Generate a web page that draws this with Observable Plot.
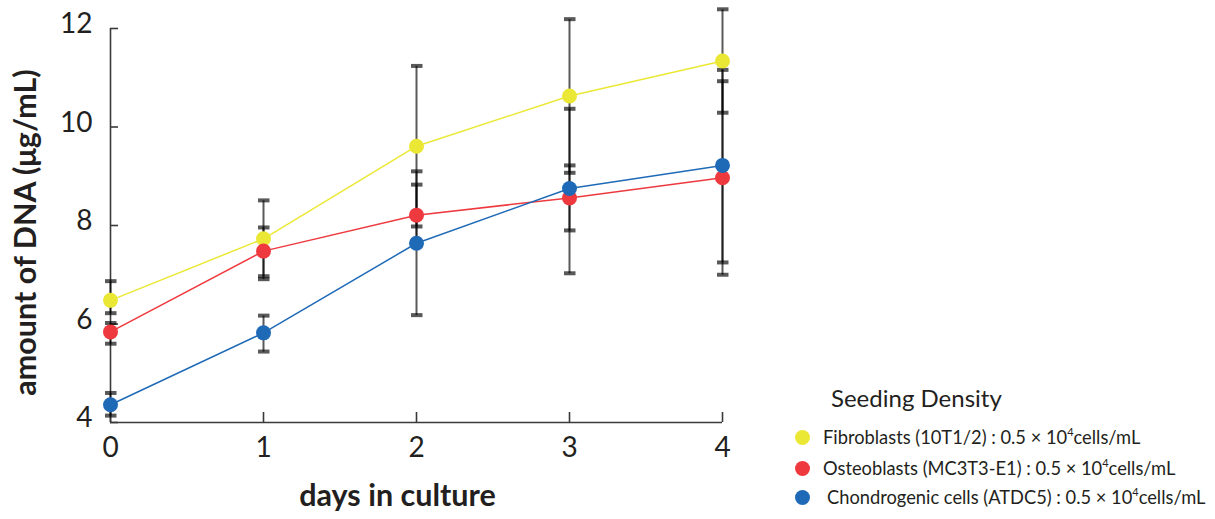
<!DOCTYPE html>
<html>
<head>
<meta charset="utf-8">
<script src="https://cdn.jsdelivr.net/npm/d3@7"></script>
<script src="https://cdn.jsdelivr.net/npm/@observablehq/plot@0.6"></script>
<style>
  body { margin: 0; background: #fff; }
  #wrap { position: relative; width: 1215px; height: 519px; font-family: Lato, "Open Sans", sans-serif; color: #231f20; overflow: hidden; }
  #wrap svg { position: absolute; left: 0; top: 0; }
  .lg-title { position: absolute; left: 831px; top: 384px; font-size: 24px; line-height: 28px; white-space: nowrap; }
  .lg-row { position: absolute; left: 795px; height: 22px; display: flex; align-items: center; white-space: nowrap; font-size: 18.3px; }
  .lg-dot { width: 15px; height: 15px; border-radius: 50%; display: inline-block; margin-right: 13px; }
  .lg-row sup { font-size: 11px; vertical-align: 8px; line-height: 0; }
</style>
</head>
<body>
<div id="wrap"></div>
<script>
// ---- data ----
const days = [0, 1, 2, 3, 4];
const yTicks = [4, 6, 8, 10, 12];
const seriesNames = ["Fibroblasts (10T1/2)", "Osteoblasts (MC3T3-E1)", "Chondrogenic cells (ATDC5)"];
const seriesColors = ["#ebe835", "#ee3a3f", "#1f6ab7"];
const densityText = "0.5 × 10";
const densityExp = "4";
const densityUnit = "cells/mL";
const legendTitle = "Seeding Density";
const xTitle = "days in culture";
const yTitle = "amount of DNA (μg/mL)";

const fibroblasts   = [6.48, 7.73, 9.61, 10.63, 11.34];
const fibroblastsHi = [6.87, 8.51, 11.24, 12.19, 12.39];
const fibroblastsLo = [6.22, 6.97, 7.98, 9.07, 10.29];

const osteoblasts   = [5.84, 7.48, 8.21, 8.56, 8.97];
const osteoblastsHi = [6.02, 7.96, 8.83, 9.22, 10.93];
const osteoblastsLo = [5.60, 6.91, 7.58, 7.90, 7.00];

const chondrogenic   = [4.36, 5.82, 7.64, 8.75, 9.22];
const chondrogenicHi = [4.60, 6.17, 9.10, 10.37, 11.16];
const chondrogenicLo = [4.14, 5.44, 6.18, 7.03, 7.25];

const values = [fibroblasts, osteoblasts, chondrogenic];
const his = [fibroblastsHi, osteoblastsHi, chondrogenicHi];
const los = [fibroblastsLo, osteoblastsLo, chondrogenicLo];

const rows = [];
seriesNames.forEach((name, i) => days.forEach((d, j) => rows.push({
  series: name, day: d, value: values[i][j], hi: his[i][j], lo: los[i][j]
})));

const axisColor = "#3a3a3a";
const textColor = "#231f20";

const chart = Plot.plot({
  width: 1215,
  height: 519,
  marginLeft: 110,
  marginRight: 493,
  marginTop: 28,
  marginBottom: 97,
  x: {domain: [0, 4]},
  y: {domain: [4, 12]},
  color: {domain: seriesNames, range: seriesColors},
  style: {fontFamily: "Lato, 'Open Sans', sans-serif", fontSize: "28px", color: textColor, background: "transparent", overflow: "visible"},
  marks: [
    Plot.ruleX([0], {y1: 4, y2: 12, stroke: axisColor, strokeWidth: 1.6}),
    Plot.ruleY([4], {x1: 0, x2: 4, stroke: axisColor, strokeWidth: 1.6}),
    Plot.axisY({ticks: yTicks, tickSize: -8, text: null, label: null, stroke: axisColor, strokeWidth: 1.6}),
    Plot.axisY({ticks: yTicks, tickSize: 0, tickPadding: 18, dy: -4, label: null, fontSize: 28, fill: textColor, tickFormat: d => String(d)}),
    Plot.axisX({ticks: days, tickSize: -10, text: null, label: null, stroke: axisColor, strokeWidth: 1.6}),
    Plot.axisX({ticks: days, tickSize: 0, tickPadding: 15, label: null, fontSize: 28, fill: textColor, tickFormat: d => String(d)}),
    Plot.line(rows, {x: "day", y: "value", z: "series", stroke: "series", strokeWidth: 1.5}),
    Plot.link(rows, {x1: "day", x2: "day", y1: "lo", y2: "hi", stroke: "black", strokeOpacity: 0.65, strokeWidth: 2, markerStart: "tick", markerEnd: "tick"}),
    Plot.dot(rows, {x: "day", y: "value", fill: "series", r: 7.5}),
    Plot.text([yTitle], {text: d => d, frameAnchor: "left", textAnchor: "middle", lineAnchor: "middle", rotate: -90, dx: -84, dy: 7, fontWeight: "bold", fontSize: 30.5, fill: textColor}),
    Plot.text([xTitle], {text: d => d, frameAnchor: "bottom", textAnchor: "middle", lineAnchor: "middle", dx: -19, dy: 74, fontWeight: "bold", fontSize: 30.5, fill: textColor})
  ]
});

const wrap = document.getElementById("wrap");
wrap.appendChild(chart);

const t = document.createElement("div");
t.className = "lg-title";
t.textContent = legendTitle;
wrap.appendChild(t);

const rowTops = [426, 457, 486];
seriesNames.forEach((name, i) => {
  const r = document.createElement("div");
  r.className = "lg-row";
  r.style.top = rowTops[i] + "px";
  const dot = document.createElement("span");
  dot.className = "lg-dot";
  dot.style.background = seriesColors[i];
  if (i === 2) dot.style.marginRight = "17px";
  r.appendChild(dot);
  const s = document.createElement("span");
  s.innerHTML = `${name} : ${densityText}<sup>${densityExp}</sup>${densityUnit}`;
  r.appendChild(s);
  wrap.appendChild(r);
});
</script>
</body>
</html>
